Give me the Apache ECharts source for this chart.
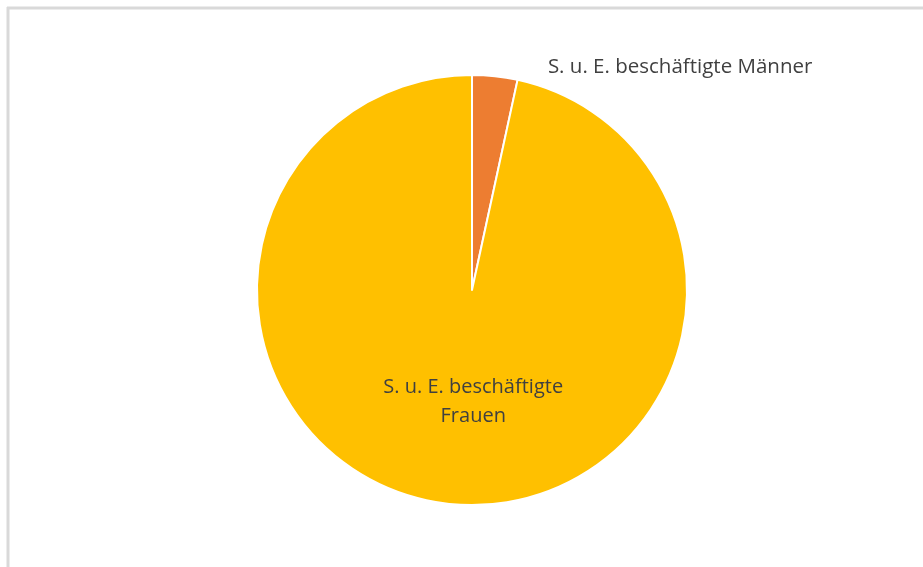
<!DOCTYPE html>
<html>
<head>
<meta charset="utf-8">
<script src="https://cdn.jsdelivr.net/npm/echarts@6/dist/echarts.min.js"></script>
<style>
  html, body { margin: 0; padding: 0; background: #fff; }
  #chart { width: 923px; height: 567px; }
</style>
</head>
<body>
<div id="chart"></div>
<script>
const categories = ['S. u. E. beschäftigte Männer', 'S. u. E. beschäftigte\nFrauen'];
const values = [3.4, 96.6];
const colors = ['#ED7D31', '#FFC000'];

const chart = echarts.init(document.getElementById('chart'), null, { renderer: 'canvas' });
const font = '"Open Sans", Lato, sans-serif';

chart.setOption({
  animation: false,
  backgroundColor: '#fff',
  graphic: [
    { type: 'line', shape: { x1: 7, y1: 8, x2: 923, y2: 8 }, style: { stroke: '#d9d9d9', lineWidth: 3 } },
    { type: 'line', shape: { x1: 8, y1: 7, x2: 8, y2: 567 }, style: { stroke: '#d9d9d9', lineWidth: 3 } }
  ],
  series: [{
    type: 'pie',
    center: [472, 290],
    radius: [0, 215],
    startAngle: 90,
    clockwise: true,
    itemStyle: { borderColor: '#fff', borderWidth: 2 },
    data: [
      {
        name: categories[0], value: values[0],
        itemStyle: { color: colors[0] },
        label: { show: true, position: 'outside', color: '#404040', fontSize: 20.5, fontFamily: font, distanceToLabelLine: 4 },
        labelLine: { show: false, length: 9, length2: 48 }
      },
      {
        name: categories[1], value: values[1],
        itemStyle: { color: colors[1] },
        label: { show: true, position: 'inside', color: '#404040', fontSize: 20, fontFamily: font, lineHeight: 29, align: 'center', offset: [13, 2] }
      }
    ],
    label: { formatter: '{b}' }
  }]
});
</script>
</body>
</html>
